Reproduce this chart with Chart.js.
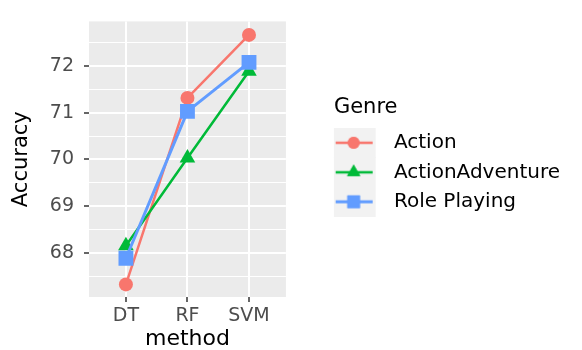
<!DOCTYPE html>
<html>
<head>
<meta charset="utf-8">
<script src="https://cdn.jsdelivr.net/npm/chart.js@4"></script>
<style>
  html, body { margin: 0; padding: 0; background: #fff; }
  #wrap { width: 582px; height: 350px; }
</style>
</head>
<body>
<div id="wrap"><canvas id="grafico" width="582" height="350"></canvas></div>
<script>
// dados
const methods = ['DT', 'RF', 'SVM'];
const genres = ['Action', 'ActionAdventure', 'Role Playing'];
const action = [67.32, 71.32, 72.67];
const actionAdventure = [68.15, 70.03, 71.89];
const rolePlaying = [67.88, 71.03, 72.08];
const yMajor = [68, 69, 70, 71, 72];
const yMinor = [67.5, 68.5, 69.5, 70.5, 71.5, 72.5];

const colors = ['#F8766D', '#00BA38', '#619CFF'];
const shapes = ['circle', 'triangle', 'rect'];
const radii = [7, 9, 10.5];
const widths = [2.5, 2.5, 3];

const FONT = "'DejaVu Sans', sans-serif";
Chart.defaults.font.family = FONT;

function toPoints(values) {
  return values.map((v, i) => ({ x: i + 1, y: v }));
}

// ícone da legenda: fundo cinza + linha + marcador
function legendIcon(i) {
  const c = document.createElement('canvas');
  c.width = 66;
  c.height = 30;
  const g = c.getContext('2d');
  g.fillStyle = '#F2F2F2';
  g.fillRect(0, 0, 45, 30);
  g.strokeStyle = colors[i];
  g.lineWidth = widths[i];
  g.beginPath();
  g.moveTo(5, 15);
  g.lineTo(42, 15);
  g.stroke();
  g.fillStyle = colors[i];
  Chart.helpers.drawPoint(g, { pointStyle: shapes[i], radius: radii[i] * 0.85, rotation: 0, borderWidth: 0 }, 23, 15);
  g.fill();
  return c;
}

// largura da legenda -> padding à direita para a área do gráfico terminar em x=285
const legendFont = 20, legendPad = 9.5, legendBox = 40.5;
const m = document.createElement('canvas').getContext('2d');
m.font = legendFont + 'px ' + FONT;
const maxText = Math.max(...genres.map(g => m.measureText(g).width));
const legendWidth = Math.ceil(legendPad + legendBox + legendFont / 2 + maxText + 10);
const rightPad = Math.max(0, 582 - 285 - 48 - legendWidth);

const panelBg = {
  id: 'panelBg',
  beforeDraw(chart) {
    const a = chart.chartArea;
    const c = chart.ctx;
    c.save();
    c.fillStyle = '#EBEBEB';
    c.fillRect(a.left, a.top, a.right - a.left, a.bottom - a.top);
    c.restore();
  }
};

const series = [action, actionAdventure, rolePlaying];

const ctx = document.getElementById('grafico');

new Chart(ctx, {
  type: 'line',
  data: {
    datasets: series.map((vals, i) => ({
      label: genres[i],
      data: toPoints(vals),
      borderColor: colors[i],
      backgroundColor: colors[i],
      borderWidth: widths[i],
      pointStyle: shapes[i],
      pointRadius: radii[i],
      pointBorderWidth: 0,
      pointBackgroundColor: colors[i],
      fill: false,
      order: 3 - i
    }))
  },
  options: {
    responsive: false,
    animation: false,
    layout: { padding: { top: 10, right: rightPad, bottom: 0, left: 0 } },
    scales: {
      x: {
        type: 'linear',
        min: 0.4,
        max: 3.6,
        afterBuildTicks: s => { s.ticks = methods.map((mm, i) => ({ value: i + 1 })); },
        afterFit: s => { s.height = 53; },
        ticks: {
          callback: v => methods[v - 1],
          color: '#4D4D4D',
          font: { size: 19 },
          padding: 3,
          maxRotation: 0
        },
        grid: { color: '#FFFFFF', lineWidth: 2, tickColor: '#333333', tickLength: 5, tickWidth: 1.5 },
        border: { display: false },
        title: { display: true, text: 'method', color: '#000', font: { size: 22, lineHeight: 1 }, padding: 0 }
      },
      y: {
        type: 'linear',
        min: 67.05,
        max: 72.96,
        afterBuildTicks: s => {
          s.ticks = yMajor.concat(yMinor).sort((a, b) => a - b).map(v => ({ value: v }));
        },
        afterFit: s => { s.width = 89; },
        ticks: {
          callback: v => (yMajor.includes(v) ? String(v) : ''),
          color: '#4D4D4D',
          font: { size: 19 },
          padding: 10
        },
        grid: {
          color: '#FFFFFF',
          lineWidth: c => (yMajor.includes(c.tick.value) ? 2 : 1),
          tickColor: c => (yMajor.includes(c.tick.value) ? '#333333' : 'rgba(0,0,0,0)'),
          tickLength: 5,
          tickWidth: 1.5
        },
        border: { display: false },
        title: { display: true, text: 'Accuracy', color: '#000', font: { size: 21 }, padding: { top: 9, bottom: 0 } }
      },
      gap: {
        type: 'linear',
        position: 'right',
        display: true,
        afterFit: s => { s.width = 48; },
        ticks: { display: false },
        grid: { display: false },
        border: { display: false }
      }
    },
    plugins: {
      tooltip: { enabled: false },
      legend: {
        position: 'right',
        fullSize: false,
        maxWidth: legendWidth,
        title: {
          display: true,
          text: 'Genre',
          position: 'start',
          color: '#000',
          font: { size: 21 },
          padding: { top: 0, bottom: 1 }
        },
        labels: {
          usePointStyle: true,
          pointStyleWidth: legendBox,
          padding: legendPad,
          color: '#000',
          font: { size: legendFont },
          generateLabels: () => genres.map((g, i) => ({
            text: g,
            pointStyle: legendIcon(i),
            datasetIndex: i,
            fontColor: '#000',
            fillStyle: 'rgba(0,0,0,0)',
            strokeStyle: 'rgba(0,0,0,0)',
            lineWidth: 0,
            hidden: false
          }))
        }
      }
    }
  },
  plugins: [panelBg]
});
</script>
</body>
</html>
